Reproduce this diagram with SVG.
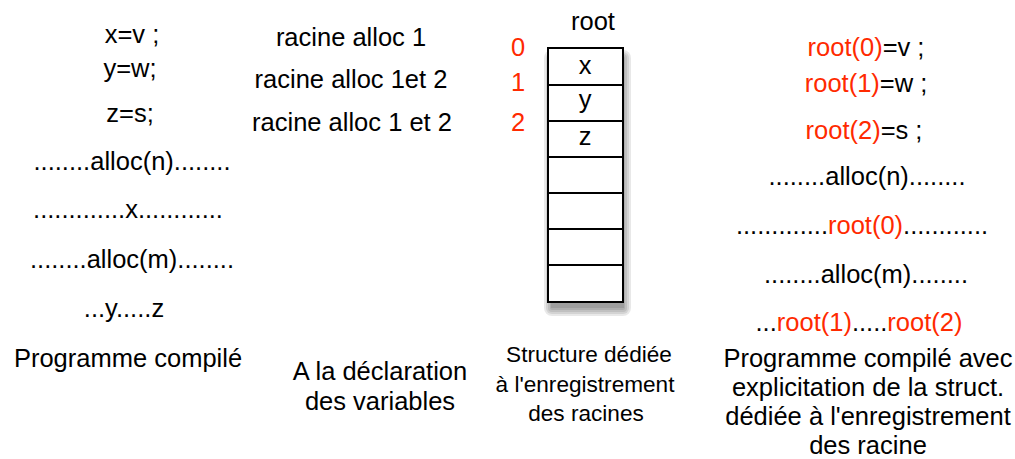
<svg xmlns="http://www.w3.org/2000/svg" width="1015" height="459" viewBox="0 0 1015 459">
<defs>
<style>
text{font-family:"Liberation Sans",Arial,Helvetica,sans-serif;font-size:25.5px;fill:#000;text-anchor:middle}
text.s{font-size:22.6px}
.r{fill:#ff2a00}
.cell{fill:#fff;stroke:#000;stroke-width:2}
.sh{fill:#000;fill-opacity:0.09}
</style>
</defs>
<rect width="1015" height="459" fill="#fff"/>
<g id="prog-compile">
<text x="132" y="43">x=v ;</text>
<text x="130" y="77">y=w;</text>
<text x="130" y="122">z=s;</text>
<text x="132" y="170">........alloc(n)........</text>
<text x="128" y="218">.............x............</text>
<text x="132" y="268">........alloc(m)........</text>
<text x="124" y="317">...y.....z</text>
<text x="128" y="367">Programme compilé</text>
</g>
<g id="declaration">
<text x="351" y="46">racine alloc 1</text>
<text x="351" y="88">racine alloc 1et 2</text>
<text x="352" y="131">racine alloc 1 et 2</text>
<text x="380" y="380">A la déclaration</text>
<text x="380" y="410">des variables</text>
</g>
<g id="root-structure">
<text x="593" y="30">root</text>
<text class="r" x="518" y="56">0</text>
<text class="r" x="518" y="91">1</text>
<text class="r" x="518" y="131">2</text>
<g id="shadow">
<rect class="sh" x="544" y="50" width="87" height="266" rx="8"/>
<rect class="sh" x="546" y="52" width="83" height="262" rx="6"/>
<rect class="sh" x="548" y="54" width="79" height="258" rx="4"/>
<rect class="sh" x="550" y="56" width="75" height="254" rx="2"/>
<rect class="sh" x="551" y="57" width="73" height="251"/>
</g>
<rect class="cell" x="548" y="48" width="75" height="37"/>
<rect class="cell" x="548" y="85" width="75" height="36"/>
<rect class="cell" x="548" y="121" width="75" height="36"/>
<rect class="cell" x="548" y="157" width="75" height="36"/>
<rect class="cell" x="548" y="193" width="75" height="36"/>
<rect class="cell" x="548" y="229" width="75" height="36"/>
<rect class="cell" x="548" y="265" width="75" height="37"/>
<text x="585" y="74">x</text>
<text x="585" y="108">y</text>
<text x="585" y="145">z</text>
<text class="s" x="589" y="362">Structure dédiée</text>
<text class="s" x="585" y="392">à l'enregistrement</text>
<text class="s" x="586" y="421">des racines</text>
</g>
<g id="prog-explicite">
<text x="866" y="56"><tspan class="r">root(0)</tspan>=v ;</text>
<text x="866" y="92"><tspan class="r">root(1)</tspan>=w ;</text>
<text x="864" y="139"><tspan class="r">root(2)</tspan>=s ;</text>
<text x="867" y="185">........alloc(n)........</text>
<text x="862" y="234">.............<tspan class="r">root(0)</tspan>............</text>
<text x="866" y="283">........alloc(m)........</text>
<text x="859" y="331">...<tspan class="r">root(1)</tspan>.....<tspan class="r">root(2)</tspan></text>
<text x="868" y="367">Programme compilé avec</text>
<text x="868" y="396">explicitation de la struct.</text>
<text x="868" y="425">dédiée à l'enregistrement</text>
<text x="868" y="454">des racine</text>
</g>
<g id="connectors"/>
</svg>
